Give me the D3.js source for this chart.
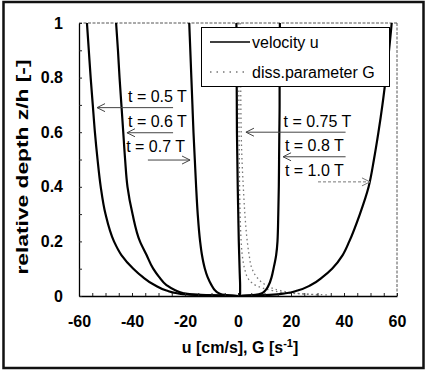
<!DOCTYPE html>
<html><head><meta charset="utf-8">
<script src="https://cdn.jsdelivr.net/npm/d3@7"></script>
<style>
html,body{margin:0;padding:0;background:#fff;}
svg{display:block;}
text{font-family:"Liberation Sans",Arial,sans-serif;}
</style></head>
<body>
<svg id="chart" width="427" height="372"></svg>
<script>
// ---- data ----
const zLevels = [1.0,0.9,0.8,0.7,0.6,0.5,0.4,0.3,0.2,0.15,0.1,0.07,0.04,0.02,0.01,0.004,0];
const u05  = [-57,-56.3,-55.6,-54.8,-54,-53,-51.8,-50,-46.8,-44,-39.5,-36,-31.5,-27,-23,-16,0];
const u06  = [-46,-45.3,-44.7,-44,-43.3,-42.6,-41.7,-39.8,-37,-34.5,-32,-29.8,-27,-23.5,-20.5,-14,0];
const u07  = [-18.4,-18,-17.6,-17.2,-16.8,-16.3,-15.8,-15.2,-14.3,-13.6,-12.5,-11.5,-10,-8.6,-7.2,-5,0];
const u075 = [-0.6,-0.55,-0.5,-0.45,-0.4,-0.25,-0.1,0.1,0.3,0.45,0.6,0.7,0.8,0.8,0.8,0.6,0];
const u08  = [15.8,15.8,15.7,15.7,15.6,15.5,15.4,15.2,14.9,14.4,13.4,12.7,11.6,10.3,9,6.5,0];
const u10  = [58,57,55.8,54.5,53,51.3,49.3,46,42,39.5,35.5,32,27.5,22.5,18,12,0];
const gLevels = [1.0,0.8,0.6,0.5,0.4,0.3,0.2,0.15,0.1,0.07,0.05,0.04,0.03,0.02,0.01,0.004];
const G1 = [0.8,1,1.2,1.5,2,2.6,3.5,4.2,5.3,7,9,10.5,12.5,16,22,30];
const G2 = [0.2,0.3,0.4,0.5,0.6,0.8,1.2,1.6,2.5,3.5,5,6.5,9,13,20,34];
const velSeries = [u05,u06,u07,u075,u08,u10];
const xTicks = [-60,-40,-20,0,20,40,60];
const yTicks = [0,0.2,0.4,0.6,0.8,1];
const annLabels = ["t = 0.5 T","t = 0.6 T","t = 0.7 T","t = 0.75 T","t = 0.8 T","t = 1.0 T"];
const annText = [[-41.5,0.712],[-41.5,0.62],[-42.2,0.528],[17.2,0.62],[17.7,0.53],[17.7,0.44]];
const annFrom = [[-24.5,0.69],[-24.5,0.598],[-34,0.498],[40.6,0.6],[40.6,0.51],[30.2,0.418]];
const annTo   = [[-53.2,0.69],[-41.9,0.598],[-18.1,0.498],[3,0.6],[17,0.51],[49.8,0.418]];
const legendLabels = ["velocity u","diss.parameter G"];

// ---- chart ----
const svg = d3.select("#chart");
const x = d3.scaleLinear().domain([-60,60]).range([79,397]);
const y = d3.scaleLinear().domain([0,1]).range([296,23]);

// outer frame
svg.append("rect").attr("x",3.5).attr("y",2).attr("width",420).attr("height",366)
  .attr("fill","none").attr("stroke","#111").attr("stroke-width",2.5);

// top and right dashed borders
svg.append("line").attr("x1",x(-60)).attr("x2",x(60)).attr("y1",y(1)).attr("y2",y(1))
  .attr("stroke","#555").attr("stroke-width",1).attr("stroke-dasharray","3,1.5");
svg.append("line").attr("x1",x(60)).attr("x2",x(60)).attr("y1",y(1)).attr("y2",y(0))
  .attr("stroke","#555").attr("stroke-width",1).attr("stroke-dasharray","3,1.5");

// G dotted curves
const gLine = d3.line().x(d=>x(d[0])).y(d=>y(d[1])).curve(d3.curveMonotoneY);
[G1,G2].forEach(g=>{
  svg.append("path").datum(g.map((v,i)=>[v,gLevels[i]])).attr("d",gLine)
    .attr("fill","none").attr("stroke","#777").attr("stroke-width",1.3).attr("stroke-dasharray","1.5,3");
});

// velocity curves
const vLine = d3.line().x(d=>x(d[0])).y(d=>y(d[1])).curve(d3.curveMonotoneY);
velSeries.forEach(s=>{
  svg.append("path").datum(s.map((v,i)=>[v,zLevels[i]])).attr("d",vLine)
    .attr("fill","none").attr("stroke","#000").attr("stroke-width",2.2);
});

// axes
const gx = svg.append("g").attr("transform",`translate(0,${y(0)})`)
  .call(d3.axisBottom(x).tickValues(xTicks).tickSize(0).tickPadding(20).tickFormat(d=>String(d)));
gx.select(".domain").attr("stroke","#000").attr("stroke-width",1.3);
gx.selectAll("text").attr("font-size",16).attr("font-weight","bold").attr("fill","#000");
svg.append("g").attr("transform",`translate(0,${y(0)})`)
  .call(d3.axisTop(x).ticks(36).tickSize(3).tickFormat(""))
  .call(g=>g.select(".domain").remove()).selectAll("line").attr("stroke","#222");

const gy = svg.append("g").attr("transform",`translate(${x(-60)},0)`)
  .call(d3.axisLeft(y).tickValues(yTicks).tickSize(0).tickPadding(16).tickFormat(d=>d===0||d===1?String(d):d3.format(".1f")(d)));
gy.select(".domain").attr("stroke","#000").attr("stroke-width",1.3);
gy.selectAll("text").attr("font-size",16).attr("font-weight","bold").attr("fill","#000");
svg.append("g").attr("transform",`translate(${x(-60)},0)`)
  .call(d3.axisRight(y).ticks(10).tickSize(3).tickFormat(""))
  .call(g=>g.select(".domain").remove()).selectAll("line").attr("stroke","#222");

// axis titles
const xt = svg.append("text").attr("x",240).attr("y",353).attr("text-anchor","middle")
  .attr("font-size",16).attr("font-weight","bold");
xt.append("tspan").text("u [cm/s], G [s");
xt.append("tspan").attr("dy",-6).attr("font-size",11).text("-1");
xt.append("tspan").attr("dy",6).text("]");
svg.append("text").attr("transform","translate(28,167) rotate(-90)").attr("text-anchor","middle")
  .attr("font-size",16).attr("font-weight","bold")
  .attr("textLength",215).attr("lengthAdjust","spacingAndGlyphs").text("relative depth z/h [-]");

// annotations
annLabels.forEach((lab,i)=>{
  const dashed = i===5;
  const col = dashed ? "#777" : "#444";
  const [x1,y1] = [x(annFrom[i][0]),y(annFrom[i][1])];
  const [x2,y2] = [x(annTo[i][0]),y(annTo[i][1])];
  svg.append("line").attr("x1",x1).attr("y1",y1).attr("x2",x2).attr("y2",y2)
    .attr("stroke",col).attr("stroke-width",1).attr("stroke-dasharray",dashed?"3,2":null);
  const dir = Math.sign(x2-x1);
  svg.append("path").attr("d",`M${x2-dir*8},${y2-4}L${x2},${y2}L${x2-dir*8},${y2+4}`)
    .attr("fill","none").attr("stroke",col).attr("stroke-width",1);
  svg.append("text").attr("x",x(annText[i][0])).attr("y",y(annText[i][1]))
    .attr("font-size",16).attr("fill","#000").text(lab);
});

// legend
const lg = svg.append("g");
lg.append("rect").attr("x",201.5).attr("y",27.5).attr("width",188).attr("height",59)
  .attr("fill","#fff").attr("stroke","#000").attr("stroke-width",1);
lg.append("line").attr("x1",210).attr("x2",250).attr("y1",42).attr("y2",42)
  .attr("stroke","#000").attr("stroke-width",1.3);
lg.append("line").attr("x1",210).attr("x2",246).attr("y1",72).attr("y2",72)
  .attr("stroke","#777").attr("stroke-width",1.3).attr("stroke-dasharray","1.5,5");
lg.append("text").attr("x",252).attr("y",48).attr("font-size",16).text(legendLabels[0]);
lg.append("text").attr("x",252).attr("y",78).attr("font-size",16).text(legendLabels[1]);
</script>
</body></html>
